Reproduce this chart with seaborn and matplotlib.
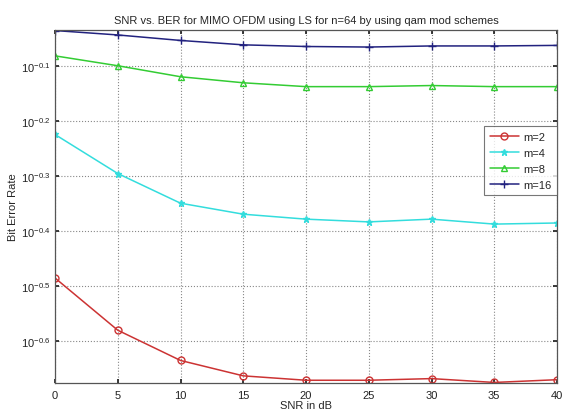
import numpy as np
import pandas as pd
import matplotlib
matplotlib.use("Agg")
import matplotlib.pyplot as plt
import seaborn as sns
from matplotlib.ticker import FixedLocator, FixedFormatter

snr = [0, 5, 10, 15, 20, 25, 30, 35, 40]
# BER values read as log10 exponents
log_m2 = [-0.485, -0.580, -0.635, -0.663, -0.671, -0.671, -0.668, -0.675, -0.670]
log_m4 = [-0.224, -0.295, -0.349, -0.369, -0.378, -0.383, -0.378, -0.387, -0.385]
log_m8 = [-0.081, -0.099, -0.119, -0.130, -0.137, -0.137, -0.135, -0.137, -0.137]
log_m16 = [-0.035, -0.043, -0.053, -0.061, -0.064, -0.065, -0.063, -0.063, -0.062]
labels = ["m=2", "m=4", "m=8", "m=16"]
ytick_exps = [-0.6, -0.5, -0.4, -0.3, -0.2, -0.1]

sns.set_theme(style="white")
plt.rcParams["font.family"] = ["Liberation Sans", "DejaVu Sans"]
plt.rcParams["mathtext.fontset"] = "custom"
plt.rcParams["mathtext.rm"] = "Liberation Sans"
plt.rcParams["mathtext.it"] = "Liberation Sans"

rows = []
for lab, vals in zip(labels, [log_m2, log_m4, log_m8, log_m16]):
    for s, v in zip(snr, vals):
        rows.append({"SNR": s, "BER": 10 ** v, "scheme": lab})
df = pd.DataFrame(rows)

fig = plt.figure(figsize=(5.63, 4.10), dpi=100)
ax = fig.add_axes([55 / 563, 26 / 410, 502 / 563, 353 / 410])

styles = {
    "m=2": dict(color="#cc3333", marker="o", mfc="none", ms=5, mew=1.0),
    "m=4": dict(color="#33dddd", marker="*", ms=5, mew=1.0),
    "m=8": dict(color="#33cc33", marker="^", mfc="none", ms=5, mew=1.0),
    "m=16": dict(color="#22227f", marker="+", ms=6, mew=1.0),
}
for lab in labels:
    sub = df[df["scheme"] == lab]
    st = styles[lab]
    sns.lineplot(data=sub, x="SNR", y="BER", ax=ax, label=lab, color=st["color"],
                 marker=st["marker"], markersize=st["ms"], markeredgewidth=st["mew"],
                 markerfacecolor=st.get("mfc", st["color"]), markeredgecolor=st["color"],
                 linewidth=1.1)

ax.set_yscale("log")
ax.set_xlim(0, 40)
ax.set_ylim(10 ** -0.676, 10 ** -0.034)
ax.set_xticks(snr)
ax.set_xticklabels([str(s) for s in snr])
ax.yaxis.set_major_locator(FixedLocator([10 ** e for e in ytick_exps]))
ax.yaxis.set_major_formatter(FixedFormatter([r"$10^{%g}$" % e for e in ytick_exps]))
ax.yaxis.set_minor_locator(FixedLocator([]))
ax.grid(True, which="major", linestyle=":", color="#888888", linewidth=0.8)
for sp in ax.spines.values():
    sp.set_color("#555555")
    sp.set_linewidth(0.9)
ax.tick_params(axis="both", labelsize=8, colors="#222222", direction="in", length=3,
               left=True, bottom=True, right=True, top=True)
ax.tick_params(axis="x", pad=5)
ax.tick_params(axis="both", labelright=False, labeltop=False)

ax.set_title("SNR vs. BER for MIMO OFDM using LS for n=64 by using qam mod schemes",
             fontsize=8, pad=5)
ax.set_xlabel("SNR in dB", fontsize=8, labelpad=0)
ax.set_ylabel("Bit Error Rate", fontsize=8, labelpad=2)

leg = ax.legend(loc="upper right", bbox_to_anchor=(1.0, 0.728), borderaxespad=0,
                fontsize=8, frameon=True, fancybox=False, handlelength=2.6,
                labelspacing=0.55, borderpad=0.5, handletextpad=0.4)
leg.get_frame().set_edgecolor("#555555")
leg.get_frame().set_linewidth(0.8)

fig.savefig("out.png", dpi=100, facecolor="white")
